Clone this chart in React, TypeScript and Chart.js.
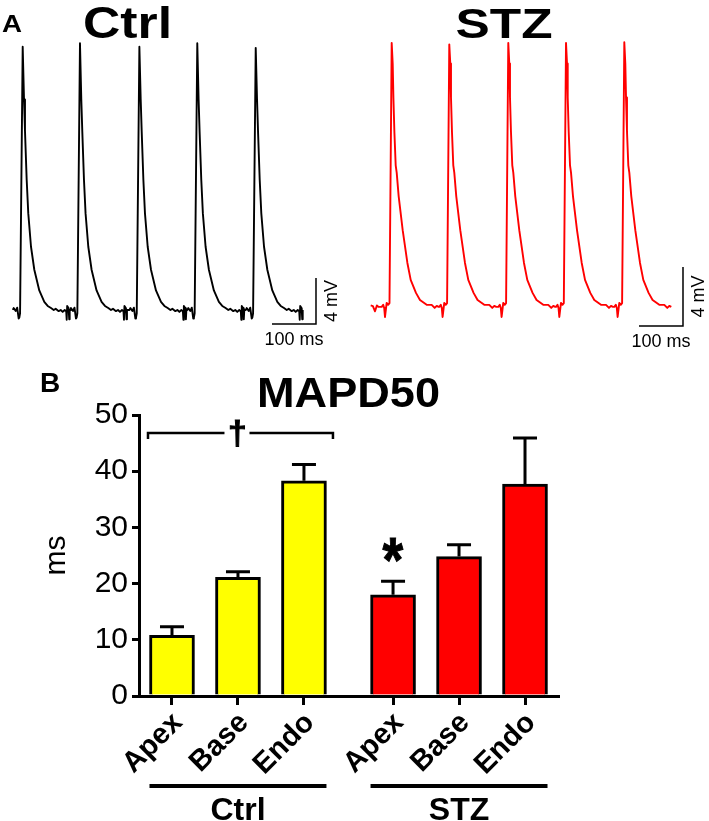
import React, { useEffect, useRef } from "react";
import { Chart, registerables } from "chart.js";

Chart.register(...registerables);

const FONT = "'Liberation Sans', Arial, Helvetica, sans-serif";
Chart.defaults.font.family = FONT;

// ---------------- Panel A : monophasic action potential traces ----------------
// Ctrl: peak time of every beat (ms from trace start) and peak amplitude (mV)
const CTRL_BEAT_TIMES = [24.3, 154.5, 289.5, 421.1, 553.9];
const CTRL_BEAT_PEAKS = [22.9, 23.2, 22.9, 23.2, 22.8];
// Ctrl: shape of one beat, time relative to peak (ms) and voltage (mV)
const CTRL_SHAPE_T = [-22.5, -20.5, -15.9, -12.5, -9.1, -7.7, -6.0, 0, 3.0, 5.2, 9.1, 12.7, 18.9, 26.4, 37.7, 49.1, 56.8, 64.3, 70.5, 75, 81.8, 86.4, 90.9, 95.5, 98.9, 100, 101.1, 104.5, 105.7, 106.8];
const CTRL_SHAPE_V = [0.0, 0.17, -0.09, 0.2, -0.75, -0.65, -0.3, 23.0, 18.3, 15.6, 11.3, 8.4, 5.5, 3.5, 1.7, 0.7, 0.35, 0.17, 0.0, 0.1, -0.1, 0.0, -0.17, 0.0, -0.1, -0.85, 0.35, 0.15, -0.8, 0.0];
const CTRL_LEAD_T: number[] = [];
const CTRL_LEAD_V: number[] = [];

// STZ
const STZ_LEAD_T = [0, 5, 9.8, 14, 18];
const STZ_LEAD_V = [0.1, 0.05, -0.3, 0.1, 0.0];
const STZ_BEAT_TIMES = [47.7, 178.6, 312.7, 443.9, 576.4];
const STZ_BEAT_PEAKS = [17.9, 17.8, 17.9, 17.9, 17.95];
const STZ_SHAPE_T = [-22.7, -19.3, -17, -15.2, -11.4, -8.0, -5.0, 0, 2.3, 3.9, 6.1, 9.1, 11.4, 15.9, 25, 35.7, 43.2, 55.2, 64.3, 79.5, 90.9, 97.7, 102.3, 106.8];
const STZ_SHAPE_V = [0, 0.14, -0.07, -0.68, 0.27, 0.14, 0.25, 17.9, 16.5, 14.2, 11.9, 9.6, 9.1, 7.5, 5.2, 2.98, 1.83, 0.95, 0.47, 0.14, 0.14, -0.07, 0.07, 0];

const SCALE_BAR_MS = 100;
const SCALE_BAR_MV = 4;

// ---------------- Panel B : MAPD50 bar chart ----------------
const REGIONS = ["Apex", "Base", "Endo"];
const GROUPS = ["Ctrl", "STZ"];
const CTRL_MEAN = [10.8, 21.1, 38.3];
const CTRL_SEM = [1.5, 1.0, 2.9];
const STZ_MEAN = [18.0, 24.8, 37.7];
const STZ_SEM = [2.4, 2.1, 8.2];
const Y_TICKS = [0, 10, 20, 30, 40, 50];
const BAR_TITLE = "MAPD50";
const Y_TITLE = "ms";
const DAGGER_Y = 46.8; // bracket level (ms)
const STAR_Y = 26; // asterisk level (ms)

// ---------------- helpers ----------------
type TextOpts = {
  size: number;
  bold?: boolean;
  align?: CanvasTextAlign;
  baseline?: CanvasTextBaseline;
  width?: number;
  rotate?: number;
  color?: string;
};

function drawText(ctx: CanvasRenderingContext2D, text: string, x: number, y: number, o: TextOpts) {
  ctx.save();
  ctx.font = `${o.bold ? "bold " : ""}${o.size}px ${FONT}`;
  ctx.fillStyle = o.color || "#000";
  ctx.textAlign = o.align || "center";
  ctx.textBaseline = o.baseline || "alphabetic";
  ctx.translate(x, y);
  if (o.rotate) ctx.rotate(o.rotate);
  if (o.width) {
    const w = ctx.measureText(text).width;
    ctx.scale(o.width / w, 1);
  }
  ctx.fillText(text, 0, 0);
  ctx.restore();
}

// draw a glyph whose ink box is centred on (cx, cy) with the given ink height (and optional ink width)
function drawGlyph(ctx: CanvasRenderingContext2D, text: string, cx: number, cy: number, inkH: number, bold: boolean, inkW?: number) {
  ctx.save();
  ctx.textAlign = "left";
  ctx.textBaseline = "alphabetic";
  ctx.font = `${bold ? "bold " : ""}100px ${FONT}`;
  let m = ctx.measureText(text);
  const h100 = m.actualBoundingBoxAscent + m.actualBoundingBoxDescent;
  const size = (100 * inkH) / h100;
  ctx.font = `${bold ? "bold " : ""}${size}px ${FONT}`;
  m = ctx.measureText(text);
  const w = m.actualBoundingBoxRight + m.actualBoundingBoxLeft;
  const sx = inkW ? inkW / w : 1;
  ctx.translate(cx, cy);
  ctx.scale(sx, 1);
  const dx = -(m.actualBoundingBoxRight - m.actualBoundingBoxLeft) / 2;
  const dy = (m.actualBoundingBoxAscent - m.actualBoundingBoxDescent) / 2;
  ctx.fillStyle = "#000";
  ctx.fillText(text, dx, dy);
  if (bold) {
    ctx.strokeStyle = "#000";
    ctx.lineWidth = 1;
    ctx.strokeText(text, dx, dy);
  }
  ctx.restore();
}

function buildTrace(leadT: number[], leadV: number[], beatTimes: number[], peaks: number[], shapeT: number[], shapeV: number[]) {
  const pts: { x: number; y: number }[] = leadT.map((t, i) => ({ x: t, y: leadV[i] }));
  beatTimes.forEach((bt, b) => {
    shapeT.forEach((dt, k) => {
      pts.push({ x: bt + dt, y: dt === 0 ? peaks[b] : shapeV[k] });
    });
  });
  return pts;
}

type TraceCfg = {
  points: { x: number; y: number }[];
  color: string;
  xMin: number;
  xMax: number;
  yMin: number;
  yMax: number;
  barT: number;
  barV: number;
  title: string;
  titleX: number;
  titleW: number;
  titleSize: number;
  letter?: string;
};

function makeTraceChart(canvas: HTMLCanvasElement, cfg: TraceCfg) {
  const decor = {
    id: "traceDecor",
    afterDraw(chart: any) {
      const ctx: CanvasRenderingContext2D = chart.ctx;
      const xs = chart.scales.x;
      const ys = chart.scales.y;
      const x0 = xs.getPixelForValue(cfg.barT);
      const x1 = xs.getPixelForValue(cfg.barT + SCALE_BAR_MS);
      const y0 = ys.getPixelForValue(cfg.barV);
      const y1 = ys.getPixelForValue(cfg.barV + SCALE_BAR_MV);
      ctx.save();
      ctx.strokeStyle = "#000";
      ctx.lineWidth = 1.5;
      ctx.beginPath();
      ctx.moveTo(x0, y0);
      ctx.lineTo(x1, y0);
      ctx.lineTo(x1, y1);
      ctx.stroke();
      ctx.restore();
      drawText(ctx, `${SCALE_BAR_MS} ms`, (x0 + x1) / 2, y0 + 16, { size: 18, baseline: "middle" });
      drawText(ctx, `${SCALE_BAR_MV} mV`, x1 + 16, (y0 + y1) / 2, { size: 18, baseline: "middle", rotate: -Math.PI / 2 });
      drawText(ctx, cfg.title, cfg.titleX, 38, { size: cfg.titleSize, bold: true, width: cfg.titleW });
      if (cfg.letter) drawText(ctx, cfg.letter, 2, 32, { size: 24, bold: true, align: "left", width: 20 });
    },
  };
  return new Chart(canvas, {
    type: "scatter",
    data: {
      datasets: [
        {
          data: cfg.points,
          showLine: true,
          borderColor: cfg.color,
          borderWidth: 1.9,
          pointRadius: 0,
          tension: 0,
          borderJoinStyle: "round",
        } as any,
      ],
    },
    options: {
      animation: false,
      responsive: false,
      devicePixelRatio: 1,
      events: [],
      layout: { padding: 0 },
      plugins: { legend: { display: false }, tooltip: { enabled: false } },
      scales: {
        x: { type: "linear", display: false, min: cfg.xMin, max: cfg.xMax },
        y: { type: "linear", display: false, min: cfg.yMin, max: cfg.yMax },
      },
    },
    plugins: [decor],
  });
}

const GROUP_GAP = 0.35;
const xPos = (g: number, i: number) => g * (REGIONS.length + GROUP_GAP) + i + 0.5;
const X_MAX = GROUPS.length * REGIONS.length + GROUP_GAP;

function makeBarChart(canvas: HTMLCanvasElement) {
  const means = [CTRL_MEAN, STZ_MEAN];
  const sems = [CTRL_SEM, STZ_SEM];
  const colors = ["#ffff00", "#ff0000"];
  const tickPos: number[] = [];
  const tickLabels: string[] = [];
  GROUPS.forEach((_, g) =>
    REGIONS.forEach((r, i) => {
      tickPos.push(xPos(g, i));
      tickLabels.push(r);
    })
  );

  const decor = {
    id: "barDecor",
    afterDatasetsDraw(chart: any) {
      const ctx: CanvasRenderingContext2D = chart.ctx;
      const ys = chart.scales.y;
      ctx.save();
      ctx.strokeStyle = "#000";
      ctx.lineWidth = 3;
      chart.data.datasets.forEach((ds: any, di: number) => {
        const meta = chart.getDatasetMeta(di);
        meta.data.forEach((el: any, i: number) => {
          const yTop = el.y;
          const yErr = ys.getPixelForValue(ds.data[i].y + sems[di][i]);
          ctx.beginPath();
          ctx.moveTo(el.x, yTop);
          ctx.lineTo(el.x, yErr);
          ctx.moveTo(el.x - 12, yErr);
          ctx.lineTo(el.x + 12, yErr);
          ctx.stroke();
        });
      });
      ctx.restore();
    },
    afterDraw(chart: any) {
      const ctx: CanvasRenderingContext2D = chart.ctx;
      const xs = chart.scales.x;
      const ys = chart.scales.y;
      const area = chart.chartArea;
      const half = 22.5;

      // dagger bracket over Ctrl bars
      const bl = xs.getPixelForValue(xPos(0, 0)) - half - 1.5;
      const br = xs.getPixelForValue(xPos(0, 2)) + half + 6.5;
      const by = ys.getPixelForValue(DAGGER_Y);
      const dc = (bl + br) / 2 - 3;
      ctx.save();
      ctx.strokeStyle = "#000";
      ctx.lineWidth = 2.5;
      ctx.beginPath();
      ctx.moveTo(bl, by + 6);
      ctx.lineTo(bl, by);
      ctx.lineTo(dc - 13, by);
      ctx.moveTo(dc + 12, by);
      ctx.lineTo(br, by);
      ctx.lineTo(br, by + 6);
      ctx.stroke();
      ctx.restore();
      drawGlyph(ctx, "\u2020", dc, by + 0.5, 27, true, 15);

      // asterisk over STZ apex
      drawGlyph(ctx, "*", xs.getPixelForValue(xPos(1, 0)), ys.getPixelForValue(STAR_Y), 24, true, 21);

      // group underlines and labels
      GROUPS.forEach((gName, g) => {
        const l = xs.getPixelForValue(xPos(g, 0)) - half;
        const r = xs.getPixelForValue(xPos(g, REGIONS.length - 1)) + half;
        const ly = area.bottom + 90;
        ctx.save();
        ctx.strokeStyle = "#000";
        ctx.lineWidth = 4;
        ctx.beginPath();
        ctx.moveTo(l, ly);
        ctx.lineTo(r, ly);
        ctx.stroke();
        ctx.restore();
        drawText(ctx, gName, (l + r) / 2, area.bottom + 124, { size: 32, bold: true });
      });

      // title and panel letter
      drawText(ctx, BAR_TITLE, 348.5, 47, { size: 42, bold: true, width: 183 });
      drawText(ctx, "B", 40, 32, { size: 28, bold: true, align: "left" });
    },
  };

  return new Chart(canvas, {
    type: "bar",
    data: {
      datasets: GROUPS.map((gName, g) => ({
        label: gName,
        data: means[g].map((y, i) => ({ x: xPos(g, i), y })),
        backgroundColor: colors[g],
        borderColor: "#000",
        borderWidth: 3,
        borderSkipped: "start",
        barThickness: 45,
        grouped: false,
      })) as any,
    },
    options: {
      animation: false,
      responsive: false,
      devicePixelRatio: 1,
      events: [],
      layout: { padding: { left: 0, top: 55, right: 151, bottom: 0 } },
      plugins: { legend: { display: false }, tooltip: { enabled: false } },
      scales: {
        x: {
          type: "linear",
          min: 0,
          max: X_MAX,
          offset: false,
          afterBuildTicks: (s: any) => {
            s.ticks = tickPos.map((v) => ({ value: v }));
          },
          afterFit: (s: any) => {
            s.height = 125;
          },
          ticks: {
            callback: (_v: any, i: number) => tickLabels[i],
            minRotation: 45,
            maxRotation: 45,
            autoSkip: false,
            labelOffset: 6,
            padding: 1,
            color: "#000",
            font: { family: FONT, size: 29, weight: "bold" },
          },
          grid: { drawOnChartArea: false, drawTicks: true, tickLength: 9, lineWidth: 3, color: "#000", offset: false },
          border: { display: true, width: 3, color: "#000" },
        } as any,
        y: {
          type: "linear",
          min: 0,
          max: 50,
          afterBuildTicks: (s: any) => {
            s.ticks = Y_TICKS.map((v) => ({ value: v }));
          },
          afterFit: (s: any) => {
            s.width = 139;
          },
          ticks: { padding: 4, color: "#000", font: { family: FONT, size: 30 } },
          grid: { drawOnChartArea: false, drawTicks: true, tickLength: 7, lineWidth: 3, color: "#000" },
          border: { display: true, width: 3, color: "#000" },
          title: {
            display: true,
            text: Y_TITLE,
            color: "#000",
            font: { family: FONT, size: 30 },
            padding: { top: 39, bottom: 0 },
          },
        } as any,
      },
    },
    plugins: [decor],
  });
}

export default function App() {
  const ctrlRef = useRef<HTMLCanvasElement>(null);
  const stzRef = useRef<HTMLCanvasElement>(null);
  const barRef = useRef<HTMLCanvasElement>(null);

  useEffect(() => {
    const charts: Chart[] = [];
    charts.push(
      makeTraceChart(ctrlRef.current!, {
        points: buildTrace(CTRL_LEAD_T, CTRL_LEAD_V, CTRL_BEAT_TIMES, CTRL_BEAT_PEAKS, CTRL_SHAPE_T, CTRL_SHAPE_V),
        color: "#000000",
        xMin: -27.27,
        xMax: 777.27,
        yMin: -4.35,
        yMax: 26.96,
        barT: 590.9,
        barV: -1.22,
        title: GROUPS[0],
        titleX: 127.5,
        titleW: 89,
        titleSize: 44,
        letter: "A",
      })
    );
    charts.push(
      makeTraceChart(stzRef.current!, {
        points: buildTrace(STZ_LEAD_T, STZ_LEAD_V, STZ_BEAT_TIMES, STZ_BEAT_PEAKS, STZ_SHAPE_T, STZ_SHAPE_V),
        color: "#ff0000",
        xMin: -37.95,
        xMax: 768.9,
        yMin: -3.6,
        yMax: 20.81,
        barT: 609.8,
        barV: -1.29,
        title: GROUPS[1],
        titleX: 150,
        titleW: 97,
        titleSize: 42,
      })
    );
    charts.push(makeBarChart(barRef.current!));
    return () => charts.forEach((c) => c.destroy());
  }, []);

  return (
    <div style={{ position: "absolute", left: 0, top: 0, width: 709, height: 821, background: "#fff", overflow: "hidden" }}>
      <canvas ref={ctrlRef} width={354} height={360} style={{ position: "absolute", left: 0, top: 0 }} />
      <canvas ref={stzRef} width={355} height={360} style={{ position: "absolute", left: 354, top: 0 }} />
      <canvas ref={barRef} width={709} height={461} style={{ position: "absolute", left: 0, top: 360 }} />
    </div>
  );
}
